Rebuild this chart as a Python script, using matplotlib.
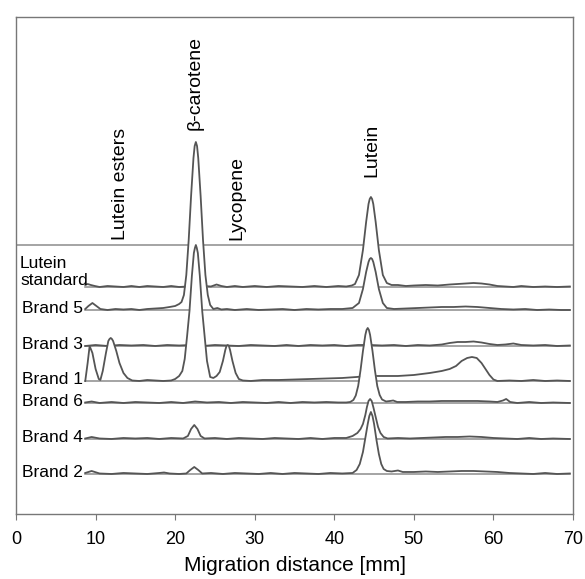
import matplotlib
matplotlib.use('Agg')
import matplotlib.pyplot as plt

plt.rcParams['font.family'] = ['Liberation Sans', 'DejaVu Sans']

# 轨迹名称和基线位置（纵轴单位：任意强度）
names = ['Lutein\nstandard', 'Brand 5', 'Brand 3', 'Brand 1', 'Brand 6', 'Brand 4', 'Brand 2']
offsets = [227, 204, 168, 133, 111, 75, 40]
divider = 269

# 各轨迹：迁移距离 [mm] 与 基线以上的信号
ls_x = [8.7, 9.0, 9.4, 9.9, 10.5, 11.5, 12.5, 13.5, 14.5, 15.5, 16.5, 17.5, 18.5, 19.5, 20.5,
        21.5, 22.5, 23.5, 24.5, 25.2, 25.8, 26.5, 27.5, 28.5, 30, 31.5, 33, 34.5, 36, 37.5,
        39, 40.5, 41.5, 42.2, 42.6, 43.1, 43.6, 44.0, 44.3, 44.45, 44.6, 44.75, 44.9, 45.2, 45.6,
        46.1, 46.6, 47.2, 48, 49, 50, 51.5, 53, 54.5, 55.5, 56.5, 57.5, 58.5, 59.5, 60.5,
        61.5, 62.5, 63.5, 65, 66.5, 68, 69.6]
ls_h = [2, 3, 2, 1, 0, 1, 0.5, 0, 1, 0, 1, 0.5, 0, 1, 0,
        0.5, 0, 1, 0.5, 2.5, 1, 0, 1, 0, 1, 0, 1, 0.5, 0, 1,
        0, 1, 0.5, 1.5, 3, 12, 37, 65, 83, 88, 90, 88, 83, 65, 37,
        12, 4, 2, 2, 1, 1.5, 2, 1.5, 2.5, 3, 3.5, 4, 3.5, 2.5, 1,
        0.5, 0, 1, 0, 0.5, 0, 0.5]

b5_x = [8.7, 9.1, 9.6, 10.1, 10.6, 11.5, 12.5, 13.5, 14.5, 15.5, 16.5, 17.5, 18.5, 19.3, 20.0,
        20.5, 20.8, 21.1, 21.4, 21.7, 22.0, 22.3, 22.45, 22.6, 22.75, 22.9, 23.2, 23.5, 23.8, 24.1,
        24.4, 24.8, 25.3, 25.8, 26.5, 27.5, 29, 30.5, 32, 33.5, 35, 36.5, 38, 39.5, 41,
        42.3, 43.1, 43.6, 44.0, 44.3, 44.45, 44.6, 44.75, 44.9, 45.2, 45.6, 46.1, 46.6, 47.5, 49,
        50.5, 52, 53.5, 55, 56.5, 58, 59.5, 61, 62.5, 64, 65.5, 67, 68.5, 69.6]
b5_h = [1, 4, 7, 4, 1, 0, 1, 0.5, 1, 0, 1, 1.5, 2, 3, 4,
        6, 8, 15, 35, 70, 114, 152, 164, 168, 164, 152, 114, 70, 35, 15,
        5, 1, 2, 0.5, 1, 0, 1, 0, 0.5, 1, 0, 1, 0.5, 1, 1,
        2, 7, 21, 38, 48, 51, 52, 51, 48, 38, 21, 7, 2, 1, 1.5,
        2, 2.5, 3, 3, 3.5, 3, 2, 1, 0.5, 1, 0, 0.5, 0, 0]

b3_x = [8.7, 10, 11.5, 13, 14.5, 16, 17.5, 19, 20.5, 22, 23.5, 25, 26.5, 28, 29.5,
        31, 32.5, 34, 35.5, 37, 38.5, 40, 41.5, 43, 44.5, 46, 47.5, 49, 50.5, 52,
        53.5, 54.5, 55.5, 56.5, 57.5, 58.5, 59.5, 60.5, 61.5, 62.5, 63.5, 65, 66.5, 68, 69.6]
b3_h = [0, 1, 0, 1, 0.5, 1, 0, 1, 0.5, 1, 0, 1, 0.5, 0, 1,
        0.5, 0, 1, 0, 1, 0.5, 1, 0, 1, 1, 0.5, 1, 0, 1, 0.5,
        1.5, 3, 4, 4, 4.5, 3.5, 2, 1, 1.5, 2.5, 1, 0.5, 1, 0, 0.5]

b1_x = [8.7, 9.0, 9.25, 9.6, 10.0, 10.4, 10.6, 10.9, 11.3, 11.6, 11.75, 11.9, 12.05, 12.2, 12.6,
        13.0, 13.5, 14.0, 14.6, 15.5, 16.5, 17.5, 18.5, 19.5, 20.0, 20.5, 20.9, 21.2, 21.5, 21.8,
        22.1, 22.35, 22.48, 22.6, 22.72, 22.85, 23.1, 23.4, 23.7, 24.0, 24.4, 24.8, 25.2, 25.6, 26.0,
        26.3, 26.45, 26.6, 26.75, 26.9, 27.2, 27.6, 28.0, 28.5, 29.5, 31, 33, 35, 37, 39,
        41, 42.8, 44.2, 46, 48, 50, 52, 53.5, 54.5, 55.3, 56.0, 56.7, 57.3, 57.9, 58.5,
        59.0, 59.5, 60.0, 60.5, 62, 63.5, 65, 66.5, 68, 69.6]
b1_h = [0, 18, 35, 28, 12, 2, 1, 10, 28, 40, 42, 43, 42, 40, 30,
        18, 8, 3, 0.5, 0, 1, 0.5, 0, 0.5, 2, 5, 10, 22, 45, 70,
        105, 128, 133, 136, 133, 128, 105, 70, 45, 20, 4, 3, 5, 9, 20,
        31, 35, 36, 35, 31, 20, 8, 2, 0.5, 0, 1, 1, 1.5, 2, 2.5,
        3, 4, 5, 5, 5, 6, 8, 10, 12, 15, 20, 23, 24, 23, 18,
        12, 6, 1.5, 0, 0.5, 0, 1, 0, 0.5, 0]

b6_x = [8.7, 9.5, 10.5, 12, 13.5, 15, 16.5, 18, 19.5, 21, 22.5, 24, 25.5, 27, 28.5,
        30, 31.5, 33, 34.5, 36, 37.5, 39, 40.5, 41.5, 42.0, 42.4, 42.7, 43.0, 43.3, 43.6,
        43.9, 44.05, 44.2, 44.35, 44.5, 44.8, 45.1, 45.4, 45.7, 46.0, 46.5, 47.0, 47.4, 47.9, 49,
        50.5, 52, 53.5, 55, 56.5, 58, 59.5, 60.5, 61.2, 61.6, 62.1, 63, 64.5, 66, 67.5, 69.6]
b6_h = [0.5, 1.5, 0, 1, 0, 1, 0.5, 0, 1, 0, 1.5, 0.5, 1, 0, 1,
        0.5, 0, 1, 0, 1, 0.5, 1, 0.5, 0.5, 1, 3, 7.5, 17, 33, 52,
        68, 73, 75, 73, 68, 52, 33, 17, 8, 3.5, 1.5, 2, 2.5, 1, 1,
        1.5, 1.5, 2, 2, 2, 2, 1.5, 1, 2.5, 4, 1, 0, 1, 0, 0.5, 0]

b4_x = [8.7, 9.5, 10.5, 12, 13.5, 15, 16.5, 18, 19.5, 21.0, 21.6, 22.0, 22.4, 22.8, 23.2,
        23.7, 25, 26.5, 28, 29.5, 31, 32.5, 34, 35.5, 37, 38.5, 40, 41.5, 42.3, 42.9,
        43.3, 43.6, 43.9, 44.1, 44.3, 44.5, 44.7, 44.9, 45.2, 45.5, 45.8, 46.2, 46.7, 48, 49.5,
        51, 52.5, 54, 55.5, 57, 58.5, 60, 61.5, 63, 64.5, 66, 67.5, 69.6]
b4_h = [0.5, 2, 0.5, 0, 1, 0.5, 1, 0, 1, 0.5, 3, 10, 14, 10, 3,
        0.5, 1, 0, 1, 0.5, 0, 1, 0.5, 0, 1, 0, 1, 1, 3, 6,
        10, 15, 24, 32, 38, 40, 38, 32, 22, 12, 6, 2, 0.5, 1, 0.5,
        1, 1.5, 2, 2, 2.5, 2, 1, 0.5, 0, 1, 0, 0.5, 0]

b2_x = [8.7, 9.5, 10.5, 12, 13.5, 15, 16.5, 18, 18.6, 19.3, 20.5, 21.4, 21.9, 22.4, 22.9,
        23.4, 24.5, 26, 27.5, 29, 30.5, 32, 33.5, 35, 36.5, 38, 39.5, 41, 42.3, 42.8,
        43.2, 43.6, 43.9, 44.2, 44.4, 44.6, 44.8, 45.0, 45.3, 45.6, 45.9, 46.2, 46.6, 47.2, 48.0,
        48.6, 50, 51.5, 53, 54.5, 56, 57.5, 59, 60.5, 62, 63.5, 65, 66.5, 68, 69.6]
b2_h = [1, 3, 0.5, 0, 1, 0.5, 0, 1, 1.5, 0.5, 0, 0.5, 4, 7, 4,
        0.5, 1, 0, 1, 0.5, 0, 1, 0, 1, 0.5, 0, 1, 0.5, 1, 4,
        10, 22, 36, 50, 58, 62, 58, 50, 34, 20, 10, 5, 3, 2.5, 3.5,
        2, 2, 2.5, 2, 2.5, 3, 3, 2.5, 2, 1, 0.5, 0, 1, 0, 0.5]

traces = [(ls_x, ls_h), (b5_x, b5_h), (b3_x, b3_h), (b1_x, b1_h),
          (b6_x, b6_h), (b4_x, b4_h), (b2_x, b2_h)]

# 峰标注
peak_names = ['Lutein esters', 'β-carotene', 'Lycopene', 'Lutein']
peak_pos = [13.1, 22.5, 27.8, 44.7]
peak_label_y = [274, 384, 274, 337]

line_col = '#555555'
base_col = '#8c8c8c'

fig = plt.figure(figsize=(5.85, 5.79), dpi=100)
ax = fig.add_axes([0.0274, 0.1123, 0.9521, 0.8583])

ax.axhline(divider, color=base_col, lw=1.1, zorder=0.5)

for i, ((x, h), base) in enumerate(zip(traces, offsets)):
    z = 1 + i
    y = [base + v for v in h]
    ax.fill_between(x, base, y, color='white', lw=0, zorder=z)
    ax.plot([x[0], x[-1]], [base, base], color=base_col, lw=1.1, zorder=z)
    ax.plot(x, y, color=line_col, lw=1.3, zorder=z + 0.1)

for i, (name, base) in enumerate(zip(names, offsets)):
    if i == 0:
        ax.text(0.5, base + 15, name, ha='left', va='center', fontsize=12.5,
                linespacing=1.15, zorder=20)
    else:
        ax.text(8.4, base + 1, name, ha='right', va='center', fontsize=12.5, zorder=20)

for name, xp, yp in zip(peak_names, peak_pos, peak_label_y):
    ax.text(xp, yp, name, rotation=90, ha='center', va='bottom', fontsize=14, zorder=20)

ax.set_xlim(0, 70)
ax.set_ylim(0, 497)
ax.set_xticks(range(0, 71, 10))
ax.set_yticks([])
ax.tick_params(axis='x', direction='out', length=4, color='#777777', labelsize=13, pad=8)
ax.set_xlabel('Migration distance [mm]', fontsize=15, labelpad=6)
for sp in ax.spines.values():
    sp.set_color('#777777')
    sp.set_linewidth(1.0)

plt.savefig('out.png', dpi=100)
plt.close()
